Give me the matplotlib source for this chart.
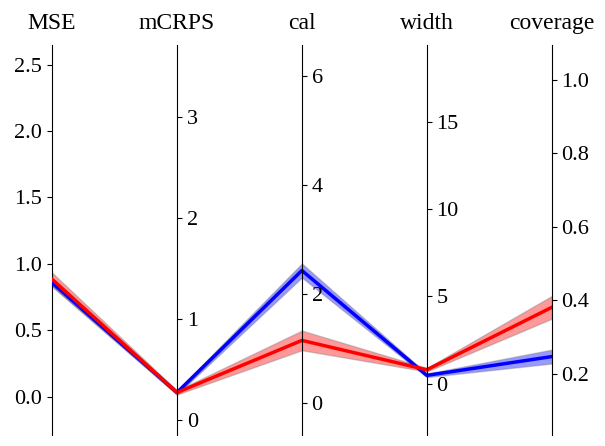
import numpy as np
import matplotlib.pyplot as plt
from matplotlib.ticker import MultipleLocator

plt.rcParams['font.family'] = ['Liberation Serif', 'DejaVu Serif']

metrics = ['MSE', 'mCRPS', 'cal', 'width', 'coverage']

# axis ranges and tick steps of each coordinate
lo = [-0.286, -0.149, -0.58, -2.91, 0.034]
hi = [2.647, 3.71, 6.56, 19.37, 1.095]
steps = [0.5, 1, 2, 5, 0.2]

blue_mean = [0.86, 0.27, 2.43, 0.49, 0.247]
blue_std = [0.03, 0.02, 0.13, 0.10, 0.019]
red_mean = [0.885, 0.27, 1.15, 0.81, 0.381]
red_std = [0.05, 0.02, 0.18, 0.10, 0.031]

fontsize = 16


def to_host(vals):
    vals = np.asarray(vals, dtype=float)
    lo_a, hi_a = np.array(lo), np.array(hi)
    return (vals - lo_a) / (hi_a - lo_a) * (hi[0] - lo[0]) + lo[0]


fig = plt.figure(figsize=(6.05, 4.46), dpi=100)
host = fig.add_axes([0.086, 0.025, 0.826, 0.874])
n = len(metrics)
axes = [host] + [host.twinx() for _ in range(n - 1)]

for i, ax in enumerate(axes):
    ax.set_ylim(lo[i], hi[i])
    ax.yaxis.set_major_locator(MultipleLocator(steps[i]))
    ax.spines['top'].set_visible(False)
    ax.spines['bottom'].set_visible(False)
    ax.tick_params(labelsize=fontsize)
    if ax != host:
        ax.spines['left'].set_visible(False)
        ax.yaxis.set_ticks_position('right')
        ax.spines['right'].set_position(('axes', i / (n - 1)))

host.spines['right'].set_visible(False)
host.set_xlim(0, n - 1)
host.set_xticks(range(n))
host.set_xticklabels(metrics, fontsize=fontsize + 1)
host.tick_params(axis='x', which='major', length=0, pad=8)
host.xaxis.tick_top()

x = np.arange(n)
for mean, std, c in [(blue_mean, blue_std, 'blue'), (red_mean, red_std, 'red')]:
    m = to_host(mean)
    low = to_host(np.array(mean) - np.array(std))
    up = to_host(np.array(mean) + np.array(std))
    host.fill_between(x, low, up, facecolor=c, alpha=0.4, edgecolor='gray', linewidth=1.0, zorder=2)
    host.plot(x, m, color=c, linewidth=2.5, zorder=3)

fig.savefig('out.png', dpi=100)
